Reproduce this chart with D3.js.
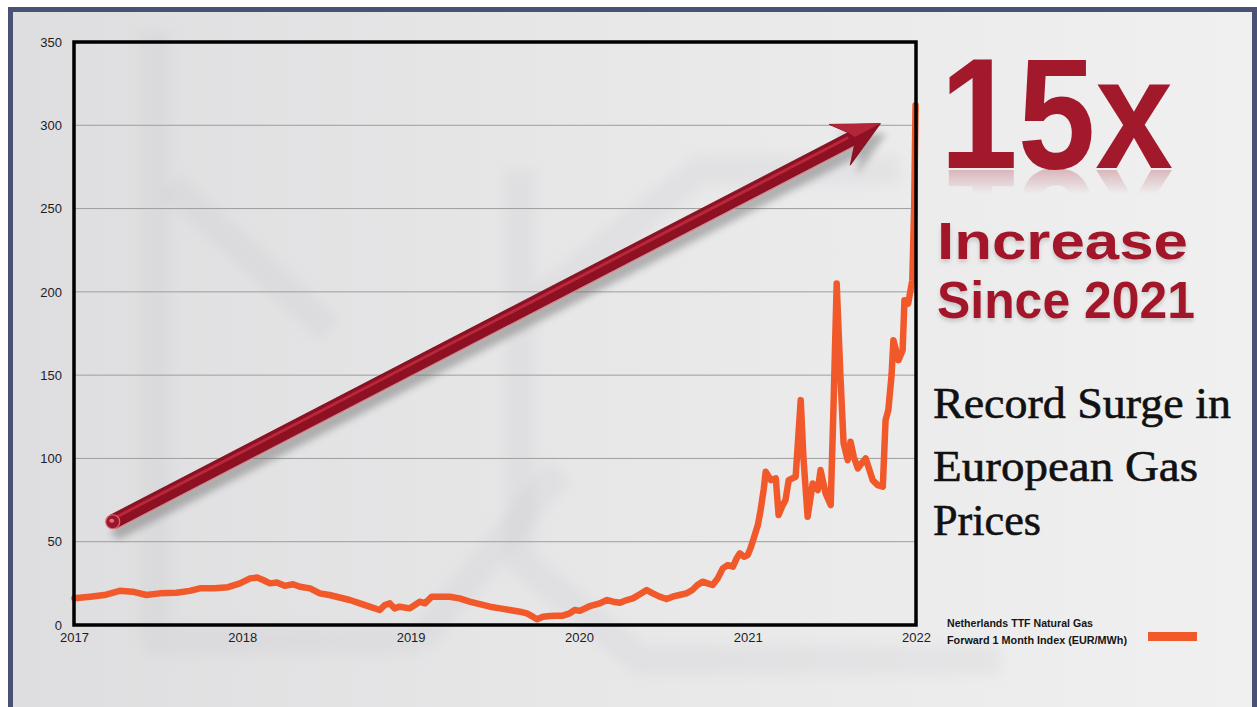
<!DOCTYPE html>
<html>
<head>
<meta charset="utf-8">
<script src="https://cdn.jsdelivr.net/npm/d3@7"></script>
<style>
  html, body { margin: 0; padding: 0; background: #ffffff; }
  svg { display: block; }
</style>
</head>
<body>
<svg id="chart" width="1257" height="707"></svg>
<script>
// Netherlands TTF natural gas, front-month (EUR/MWh)
const priceDates = [
  "2017-01-02","2017-02-05","2017-03-08","2017-04-10","2017-05-08","2017-06-07","2017-07-06",
  "2017-08-11","2017-09-09","2017-10-01","2017-11-02","2017-12-01","2017-12-27","2018-01-18",
  "2018-02-02","2018-02-15","2018-03-02","2018-03-17","2018-04-03","2018-04-21","2018-05-06",
  "2018-05-28","2018-06-18","2018-07-09","2018-07-31","2018-08-22","2018-09-13","2018-10-04",
  "2018-10-26","2018-11-06","2018-11-17","2018-11-27","2018-12-08","2018-12-30","2019-01-10",
  "2019-01-21","2019-02-01","2019-02-16","2019-03-05","2019-03-27","2019-04-17","2019-05-09",
  "2019-05-31","2019-06-22","2019-07-14","2019-08-04","2019-08-26","2019-09-10","2019-09-23",
  "2019-10-02","2019-10-15","2019-10-30","2019-11-14","2019-11-27","2019-12-12","2019-12-23",
  "2020-01-03","2020-01-25","2020-02-15","2020-03-02","2020-03-15","2020-03-30","2020-04-14",
  "2020-04-27","2020-05-12","2020-05-27","2020-06-09","2020-06-24","2020-07-09","2020-07-22",
  "2020-08-06","2020-08-21","2020-09-03","2020-09-14","2020-09-25","2020-10-06","2020-10-17",
  "2020-10-28","2020-11-08","2020-11-19","2020-11-30","2020-12-08","2020-12-15","2020-12-24",
  "2021-01-01","2021-01-07","2021-01-14","2021-01-23","2021-01-29","2021-02-05","2021-02-09",
  "2021-02-20","2021-03-03","2021-03-09","2021-03-18","2021-03-24","2021-03-31","2021-04-15",
  "2021-04-26","2021-05-02","2021-05-11","2021-05-22","2021-06-02","2021-06-08","2021-06-19",
  "2021-06-30","2021-07-06","2021-07-13","2021-07-21","2021-07-28","2021-08-06","2021-08-12",
  "2021-08-19","2021-08-28","2021-09-05","2021-09-14","2021-09-21","2021-09-29","2021-10-10",
  "2021-10-21","2021-10-27","2021-11-02","2021-11-09","2021-11-13","2021-11-24","2021-12-03",
  "2021-12-07","2021-12-15","2021-12-24","2021-12-28","2021-12-31"
];
const ttfPrices = [
  16, 17, 18, 20.5, 20, 18, 19,
  19.4, 20.5, 22, 22, 22.7, 25, 28,
  28.5, 27, 25, 25.5, 23.5, 24.5, 23,
  22, 19, 18, 16.5, 15, 13, 11,
  9, 12, 13, 10, 11, 10, 12,
  14, 13, 17, 17, 17, 16, 14,
  12.5, 11, 10, 9, 8, 7, 5,
  3.5, 5, 5.4, 5.5, 5.6, 7, 9,
  8.5, 11.4, 13, 15, 14, 13.4, 15,
  16, 18.5, 21, 19, 17, 15.6, 17,
  18, 19, 21, 24, 26, 25, 24,
  28, 34, 36, 35, 40, 43, 41,
  42, 46, 52, 60, 69, 82, 92,
  87, 88, 66, 72, 75, 87, 89,
  135, 100, 65, 85, 81, 93, 79,
  72, 130, 205, 150, 109, 99, 110,
  101, 94, 97, 100, 94, 87, 84,
  83, 123, 129, 150, 171, 159, 165,
  195, 193, 207, 250, 312
];

const yTicks = [0, 50, 100, 150, 200, 250, 300, 350];
const xYears = ["2017", "2018", "2019", "2020", "2021", "2022"];

const headline = "15x";
const subHeadline = ["Increase", "Since 2021"];
const caption = ["Record Surge in", "European Gas", "Prices"];
const legendLines = ["Netherlands TTF Natural Gas", "Forward 1 Month Index (EUR/MWh)"];

// trend arrow anchored in data space
const trendFrom = { date: "2017-03-26", value: 62 };
const trendTo = { date: "2021-10-16", value: 301 };

const parse = d3.timeParse("%Y-%m-%d");
const series = priceDates.map((d, i) => ({ date: parse(d), value: ttfPrices[i] }));

const W = 1257, H = 707;
const plot = { left: 74, right: 916, top: 42, bottom: 625 };
const lineColor = "#f1592a";
const red = "#a3192c";

const svg = d3.select("#chart");
const defs = svg.append("defs");

// ---------- page background ----------
const bgGrad = defs.append("linearGradient").attr("id", "bg").attr("x1", 0).attr("x2", 1).attr("y1", 0).attr("y2", 0);
bgGrad.append("stop").attr("offset", "0%").attr("stop-color", "#dedee0");
bgGrad.append("stop").attr("offset", "45%").attr("stop-color", "#e7e7e8");
bgGrad.append("stop").attr("offset", "100%").attr("stop-color", "#f0f0f0");

svg.append("rect").attr("width", W).attr("height", H).attr("fill", "#ffffff");
svg.append("rect").attr("x", 8).attr("y", 7).attr("width", W - 8).attr("height", H - 7).attr("fill", "#4a5274");
svg.append("rect").attr("x", 13).attr("y", 12).attr("width", 1239).attr("height", H - 12).attr("fill", "url(#bg)");

// faint watermark logo behind everything
defs.append("filter").attr("id", "soft").append("feGaussianBlur").attr("stdDeviation", 6);
const wm = svg.append("g").attr("fill", "none").attr("stroke", "#b9b9c2")
  .attr("stroke-opacity", 0.16).attr("stroke-width", 30).attr("filter", "url(#soft)")
  .attr("stroke-linejoin", "round");
wm.append("polyline").attr("points", "155,30 155,640 420,640");
wm.append("polyline").attr("points", "170,185 330,330");
wm.append("polyline").attr("points", "520,170 520,560 640,660 1000,660");
wm.append("polyline").attr("points", "540,300 700,170 900,170");
wm.append("polyline").attr("points", "420,640 560,470");

// ---------- scales ----------
const x = d3.scaleTime()
  .domain([parse("2017-01-01"), parse("2022-01-01")])
  .range([plot.left, plot.right]);
const y = d3.scaleLinear().domain([0, 350]).range([plot.bottom, plot.top]);

// grid
svg.append("g")
  .selectAll("line")
  .data(yTicks.filter(v => v > 0 && v < 350))
  .join("line")
  .attr("x1", plot.left).attr("x2", plot.right)
  .attr("y1", d => y(d)).attr("y2", d => y(d))
  .attr("stroke", "#9d9d9d").attr("stroke-width", 1);

// axes labels
const yAxis = svg.append("g")
  .attr("transform", `translate(${plot.left},0)`)
  .call(d3.axisLeft(y).tickValues(yTicks).tickSize(0).tickPadding(12));
const xAxis = svg.append("g")
  .attr("transform", `translate(0,${plot.bottom})`)
  .call(d3.axisBottom(x).tickValues(xYears.map(s => parse(s + "-01-01")))
    .tickFormat((d, i) => xYears[i]).tickSize(0).tickPadding(8));
[yAxis, xAxis].forEach(a => {
  a.select(".domain").remove();
  a.selectAll("text").attr("font-family", "'Liberation Sans', Arial, Helvetica, sans-serif")
    .attr("font-size", 13).attr("fill", "#1d1d1d");
});

// ---------- trend arrow (3D tube with drop shadow) ----------
const shadowF = defs.append("filter").attr("id", "arrowShadow")
  .attr("x", "-10%").attr("y", "-10%").attr("width", "130%").attr("height", "140%");
shadowF.append("feGaussianBlur").attr("stdDeviation", 3.5);

const A = [x(parse(trendFrom.date)), y(trendFrom.value)];
const B = [x(parse(trendTo.date)), y(trendTo.value)];
const len = Math.hypot(B[0] - A[0], B[1] - A[1]);
const u = [(B[0] - A[0]) / len, (B[1] - A[1]) / len];
const n = [-u[1], u[0]];
const P = (p, a, b) => [p[0] + u[0] * a + n[0] * b, p[1] + u[1] * a + n[1] * b];
const headLen = 46, headHalf = 23, notch = 33, shaftHalf = 7;

const arrowOutline = [
  P(A, 0, -shaftHalf), P(B, -notch, -shaftHalf), P(B, -headLen, -headHalf), B,
  P(B, -headLen, headHalf), P(B, -notch, shaftHalf), P(A, 0, shaftHalf)
];
const pts = p => p.map(q => q.join(",")).join(" ");

const arrowG = svg.append("g");
arrowG.append("g").attr("transform", "translate(6,10)").attr("filter", "url(#arrowShadow)")
  .attr("opacity", 0.45)
  .call(g => {
    g.append("polygon").attr("points", pts(arrowOutline)).attr("fill", "#6b6b6b");
    g.append("circle").attr("cx", A[0]).attr("cy", A[1]).attr("r", shaftHalf).attr("fill", "#6b6b6b");
  });

// light rim under the shaft
arrowG.append("polyline")
  .attr("points", pts([P(A, 0, shaftHalf + 0.5), P(B, -notch, shaftHalf + 0.5)]))
  .attr("fill", "none").attr("stroke", "#e07a84").attr("stroke-width", 2.5).attr("stroke-opacity", 0.8);
arrowG.append("polygon").attr("points", pts(arrowOutline)).attr("fill", "#8d1023")
  .attr("stroke", "#7a0d1c").attr("stroke-width", 0.8);
// upper highlight of the tube
arrowG.append("polyline")
  .attr("points", pts([P(A, 2, -2.5), P(B, -notch - 2, -2.5)]))
  .attr("fill", "none").attr("stroke", "#b8283b").attr("stroke-width", 3);
// upper facet on the arrowhead
arrowG.append("polygon")
  .attr("points", pts([B, P(B, -headLen, -headHalf), P(B, -notch, -shaftHalf), P(B, -notch + 4, 0)]))
  .attr("fill", "#b3263a");
// tail cap
arrowG.append("circle").attr("cx", A[0]).attr("cy", A[1]).attr("r", shaftHalf)
  .attr("fill", "#9c1529").attr("stroke", "#d86a75").attr("stroke-width", 1.2);
arrowG.append("ellipse").attr("cx", A[0] - 1).attr("cy", A[1] - 1).attr("rx", 2.5).attr("ry", 2)
  .attr("fill", "#e98892").attr("opacity", 0.8);

// ---------- price line ----------
const line = d3.line().x(d => x(d.date)).y(d => y(d.value));
svg.append("path").datum(series)
  .attr("d", line)
  .attr("fill", "none").attr("stroke", lineColor).attr("stroke-width", 6.5)
  .attr("stroke-linejoin", "round").attr("stroke-linecap", "round");

// plot frame
svg.append("rect")
  .attr("x", plot.left).attr("y", plot.top)
  .attr("width", plot.right - plot.left).attr("height", plot.bottom - plot.top)
  .attr("fill", "none").attr("stroke", "#000").attr("stroke-width", 3.5);

// ---------- headline block ----------
const sans = "'Liberation Sans', Arial, Helvetica, sans-serif";
const fade = defs.append("linearGradient").attr("id", "fade").attr("x1", 0).attr("x2", 0).attr("y1", 0).attr("y2", 1);
fade.append("stop").attr("offset", "0%").attr("stop-color", "#fff").attr("stop-opacity", 1);
fade.append("stop").attr("offset", "100%").attr("stop-color", "#fff").attr("stop-opacity", 0);

const lift = defs.append("filter").attr("id", "lift").attr("x", "-5%").attr("y", "-10%").attr("width", "110%").attr("height", "140%");
lift.append("feDropShadow").attr("dx", 0).attr("dy", 3).attr("stdDeviation", 2)
  .attr("flood-color", "#808080").attr("flood-opacity", 0.35);

// big multiplier with a soft reflection below its baseline
const hBase = 168;
svg.append("text").attr("id", "headText")
  .attr("x", 940).attr("y", hBase)
  .attr("font-family", sans).attr("font-weight", "bold").attr("font-size", 158)
  .attr("textLength", 233).attr("lengthAdjust", "spacingAndGlyphs")
  .attr("fill", red).text(headline);
defs.append("mask").attr("id", "reflMask").attr("maskUnits", "userSpaceOnUse")
  .append("rect").attr("x", 920).attr("y", hBase).attr("width", 280).attr("height", 26)
  .attr("fill", "url(#fade)");
svg.append("g").attr("mask", "url(#reflMask)").attr("opacity", 0.28)
  .append("use").attr("href", "#headText")
  .attr("transform", `translate(0,${2 * hBase + 2}) scale(1,-1)`);

const subBase = [259, 318];
const subWidth = [251, 258];
subHeadline.forEach((s, i) => {
  svg.append("text")
    .attr("x", 937).attr("y", subBase[i])
    .attr("font-family", sans).attr("font-weight", "bold").attr("font-size", 52.5)
    .attr("textLength", subWidth[i]).attr("lengthAdjust", "spacingAndGlyphs")
    .attr("filter", "url(#lift)")
    .attr("fill", red).text(s);
});

const serif = "'Liberation Serif', 'Times New Roman', serif";
const capBase = [418, 481, 535];
const capWidth = [298, 265, 108];
caption.forEach((s, i) => {
  svg.append("text")
    .attr("x", 933).attr("y", capBase[i])
    .attr("font-family", serif).attr("font-size", 44)
    .attr("textLength", capWidth[i]).attr("lengthAdjust", "spacingAndGlyphs")
    .attr("fill", "#111").attr("stroke", "#111").attr("stroke-width", 0.6)
    .text(s);
});

// ---------- legend ----------
const narrow = "'Liberation Sans Narrow', 'Arial Narrow', 'Liberation Sans', Arial, sans-serif";
const legW = [146, 180];
legendLines.forEach((s, i) => {
  svg.append("text")
    .attr("x", 947).attr("y", 627 + i * 17)
    .attr("font-family", narrow).attr("font-weight", "bold").attr("font-size", 11.5)
    .attr("textLength", legW[i]).attr("lengthAdjust", "spacingAndGlyphs")
    .attr("fill", "#151515").text(s);
});
svg.append("rect").attr("x", 1148).attr("y", 632).attr("width", 49).attr("height", 9)
  .attr("fill", lineColor);
</script>
</body>
</html>
